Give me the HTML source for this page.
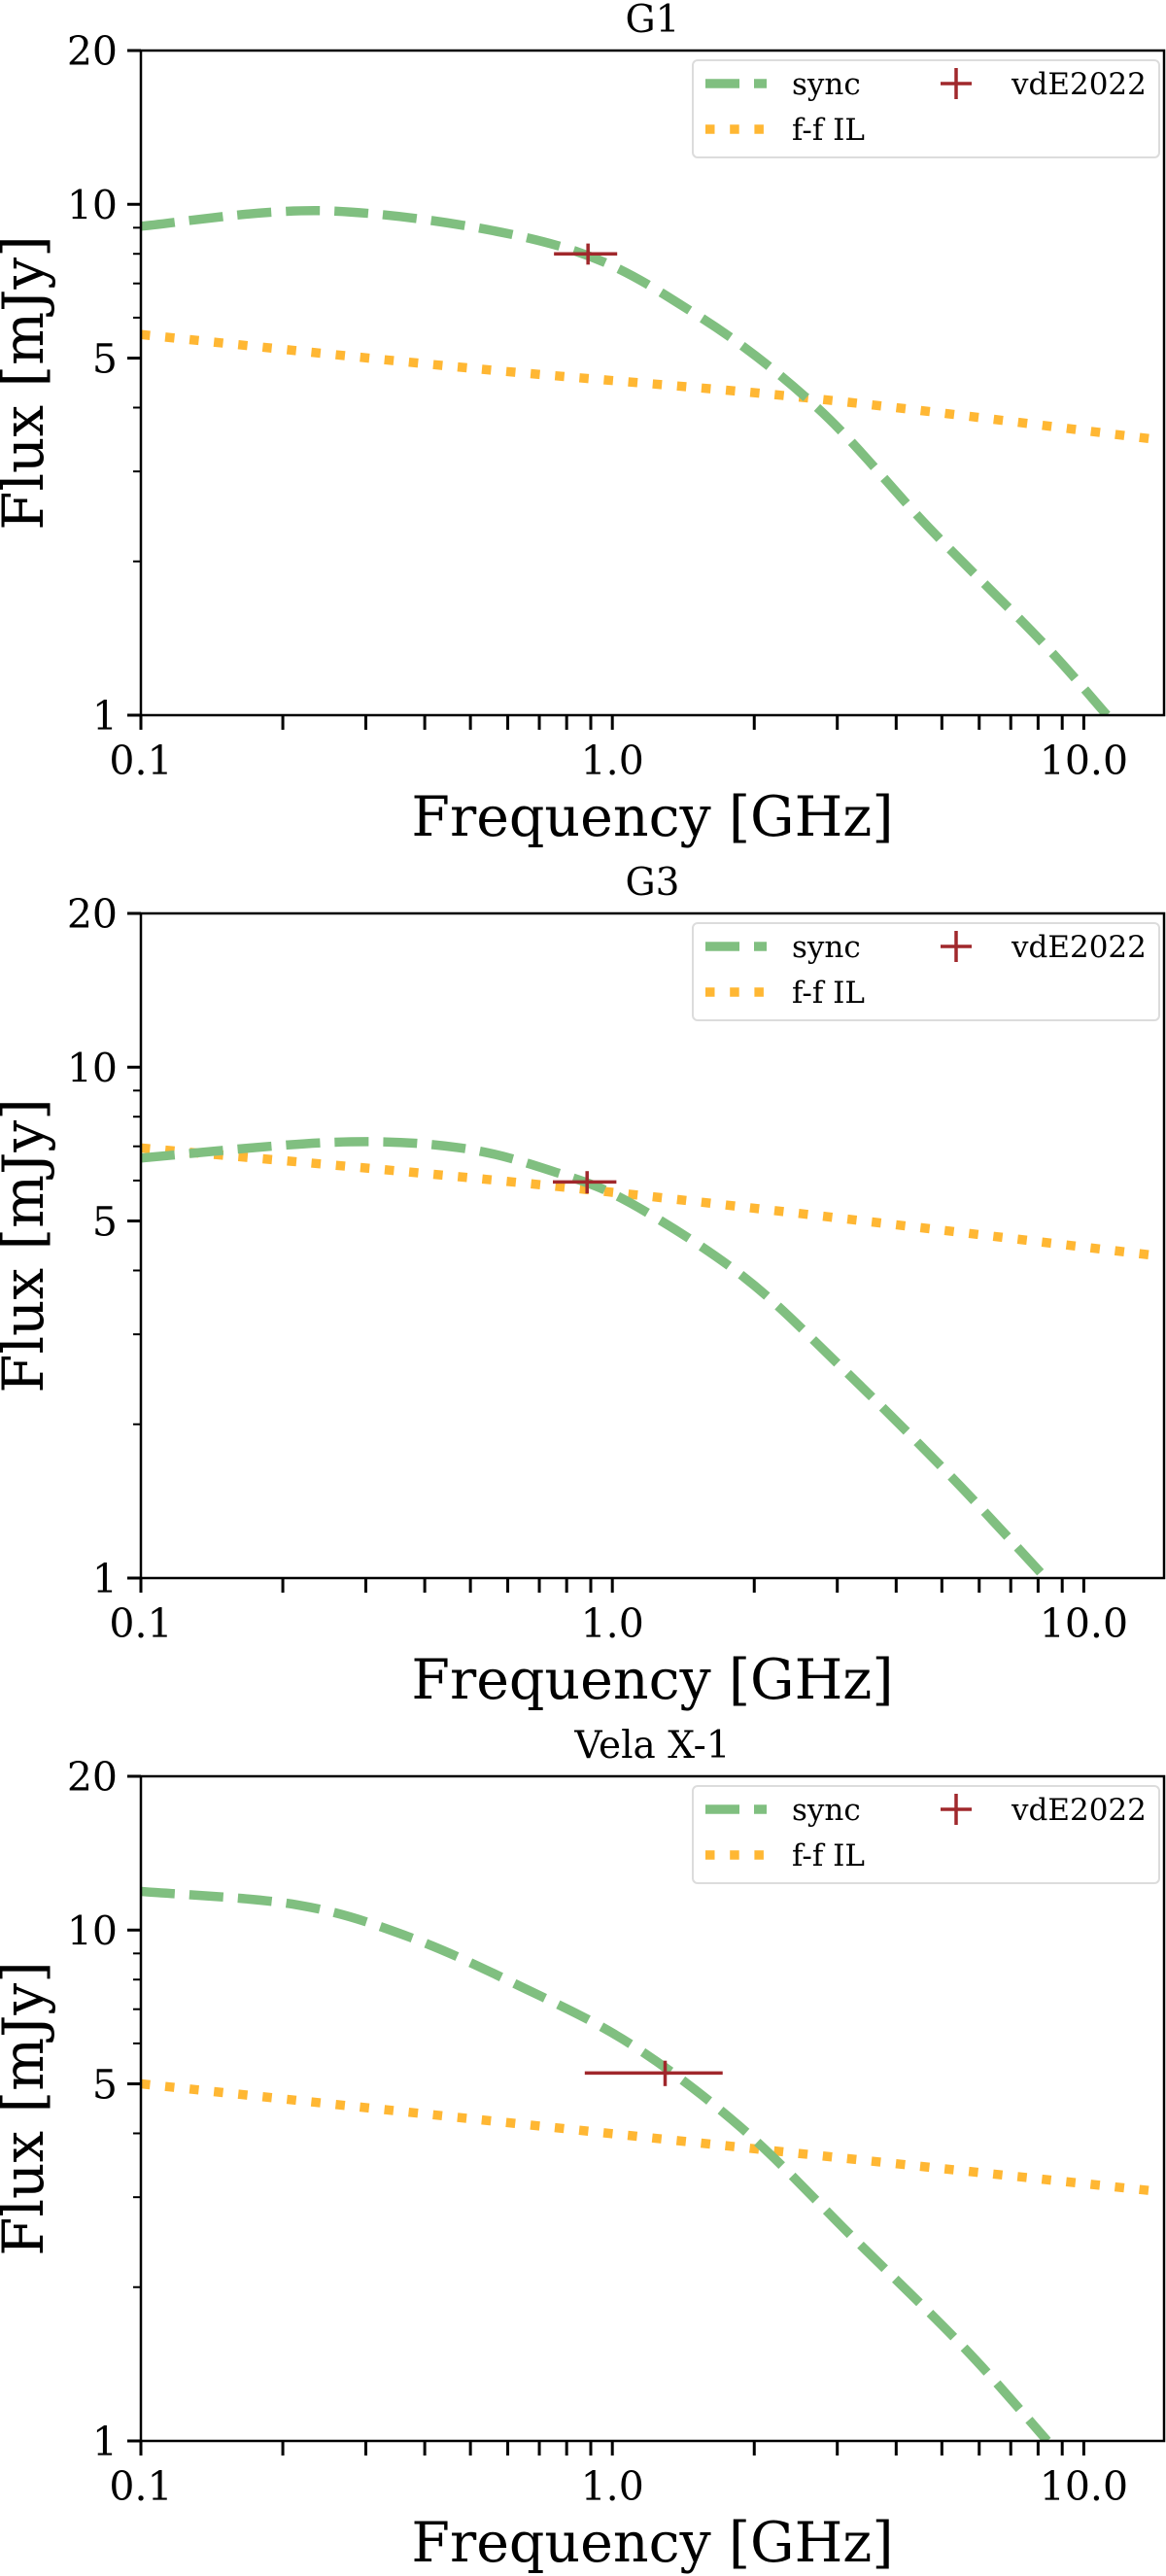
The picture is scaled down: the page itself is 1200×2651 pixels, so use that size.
<!DOCTYPE html>
<html><head><meta charset="utf-8">
<style>
html,body{margin:0;padding:0;background:#fff;}
svg{display:block;font-family:"DejaVu Serif","Liberation Serif",serif;}
</style></head>
<body>
<svg id="fig" width="1200" height="2651" viewBox="0 0 1200 2651" xmlns="http://www.w3.org/2000/svg"></svg>
<script>
// ---- data ----
const panelTitles = ["G1", "G3", "Vela X-1"];
const xTickLabels = ["0.1", "1.0", "10.0"];
const xTickValues = [0.1, 1, 10];
const yTickLabels = ["1", "5", "10", "20"];
const yTickValues = [1, 5, 10, 20];
const syncFreqG1 = [0.1, 0.257, 0.766, 1.5, 2.72, 4.69, 8.1, 11.2];
const syncFluxG1 = [9.06, 9.7, 8.3, 6.1, 4.0, 2.33, 1.40, 1.0];
const ffFreqG1 = [0.1, 0.51, 2.72, 14.8];
const ffFluxG1 = [5.56, 4.77, 4.16, 3.45];
const ptFreqG1 = [0.888]; const ptFluxG1 = [8.0]; const ptXerrG1 = [0.136]; const ptYerrG1 = [0.38];
const syncFreqG3 = [0.1, 0.257, 0.476, 0.766, 1.097, 1.89, 3.03, 5.23, 8.3];
const syncFluxG3 = [6.64, 7.13, 6.95, 6.21, 5.41, 3.90, 2.61, 1.58, 1.0];
const ffFreqG3 = [0.1, 0.884, 14.8];
const ffFluxG3 = [6.95, 5.76, 4.26];
const ptFreqG3 = [0.884]; const ptFluxG3 = [5.96]; const ptXerrG3 = [0.136]; const ptYerrG3 = [0.3];
const syncFreqVela = [0.1, 0.215, 0.37, 0.638, 1.097, 1.89, 3.27, 5.62, 8.37];
const syncFluxVela = [11.9, 11.2, 9.7, 7.76, 5.97, 4.08, 2.48, 1.51, 1.0];
const ffFreqVela = [0.1, 14.8];
const ffFluxVela = [5.0, 3.07];
const ptFreqVela = [1.294]; const ptFluxVela = [5.25]; const ptXerrVela = [0.42]; const ptYerrVela = [0.3];

const panels = [
 {sf:syncFreqG1, sv:syncFluxG1, ff:ffFreqG1, fv:ffFluxG1, pf:ptFreqG1, pv:ptFluxG1, px:ptXerrG1, py:ptYerrG1},
 {sf:syncFreqG3, sv:syncFluxG3, ff:ffFreqG3, fv:ffFluxG3, pf:ptFreqG3, pv:ptFluxG3, px:ptXerrG3, py:ptYerrG3},
 {sf:syncFreqVela, sv:syncFluxVela, ff:ffFreqVela, fv:ffFluxVela, pf:ptFreqVela, pv:ptFluxVela, px:ptXerrVela, py:ptYerrVela}
];

const NS = "http://www.w3.org/2000/svg";
const svg = document.getElementById('fig');
function mk(tag, attrs, parent){ const e=document.createElementNS(NS,tag); for(const k in attrs) e.setAttribute(k,attrs[k]); (parent||svg).appendChild(e); return e; }

const L=145, R=1198, XMIN=0.1, XMAX=14.8, YMIN=1, YMAX=20;
const GREEN="rgb(128,191,128)", ORANGE="rgb(255,183,51)", RED="rgb(160,40,44)";

panels.forEach((p, i) => {
  const T = 52 + i*888, B = 736 + i*888;
  const xs = f => L + (Math.log10(f)-Math.log10(XMIN))/(Math.log10(XMAX)-Math.log10(XMIN))*(R-L);
  const ys = v => B - (Math.log10(v)-Math.log10(YMIN))/(Math.log10(YMAX)-Math.log10(YMIN))*(B-T);
  const g = mk('g', {});
  
  
  const clipId = 'clip'+i;
  const cp = mk('clipPath', {id:clipId}, g); mk('rect',{x:L,y:T,width:R-L,height:B-T},cp);

  const title = mk('text', {x:(L+R)/2, y:T-19, 'text-anchor':'middle', 'font-size':39}, g);
  title.textContent = panelTitles[i];
  
  

  function curve(fr, vals){
    const pts = fr.map((f,k)=>[xs(f), ys(vals[k])]);
    let d = 'M'+pts[0][0]+','+pts[0][1];
    for(let k=0;k<pts.length-1;k++){
      const p0=pts[Math.max(0,k-1)], p1=pts[k], p2=pts[k+1], p3=pts[Math.min(pts.length-1,k+2)];
      const c1=[p1[0]+(p2[0]-p0[0])/6, p1[1]+(p2[1]-p0[1])/6];
      const c2=[p2[0]-(p3[0]-p1[0])/6, p2[1]-(p3[1]-p1[1])/6];
      d += ' C'+c1+' '+c2+' '+p2;
    }
    return d;
  }
  const ff = mk('path', {d:curve(p.ff,p.fv), fill:'none', stroke:ORANGE, 'stroke-width':9.5, 'stroke-dasharray':'9.5 15.7', 'clip-path':'url(#'+clipId+')'}, g);
  
  
  const sy = mk('path', {d:curve(p.sf,p.sv), fill:'none', stroke:GREEN, 'stroke-width':9.5, 'stroke-dasharray':'35 15', 'clip-path':'url(#'+clipId+')'}, g);
  
  

  p.pf.forEach((f,k)=>{
    const e = mk('g', {stroke:RED, 'stroke-width':3.5}, g);
    
    
    mk('line',{x1:xs(f-p.px[k]),x2:xs(f+p.px[k]),y1:ys(p.pv[k]),y2:ys(p.pv[k])},e);
    mk('line',{x1:xs(f),x2:xs(f),y1:ys(p.pv[k]+p.py[k]),y2:ys(p.pv[k]-p.py[k])},e);
  });

  const fr = mk('rect',{x:L,y:T,width:R-L,height:B-T,fill:'none',stroke:'#000','stroke-width':2.5},g);
  
  

  for(let dec=0.1; dec<20; dec*=10){
    for(let m=1;m<10;m++){
      const f=dec*m; if(f>XMAX+1e-9) continue;
      const x=xs(f);
      mk('line',{x1:x,x2:x,y1:B,y2:B+15,stroke:'#000','stroke-width':3},g);
    }
  }
  xTickValues.forEach((v,k)=>{
    const t = mk('text',{x:xs(v), y:B+61, 'text-anchor':'middle','font-size':41},g);
    t.textContent = xTickLabels[k];
    
    
  });
  for(let m=1;m<=20;m++){
    if(m>10 && m!==20) continue;
    const major = yTickValues.includes(m);
    const y=ys(m);
    mk('line',{x1:L-(major?14:8),x2:L,y1:y,y2:y,stroke:'#000','stroke-width':major?3:2},g);
  }
  yTickValues.forEach((v,k)=>{
    const t = mk('text',{x:L-24, y:ys(v)+15, 'text-anchor':'end','font-size':41},g);
    t.textContent = yTickLabels[k];
    
    
  });
  const xl = mk('text',{x:(L+R)/2, y:B+124, 'text-anchor':'middle','font-size':57},g);
  xl.textContent = 'Frequency [GHz]';
  
  
  const yc = (T+B)/2;
  const yl = mk('text',{x:44, y:yc, 'text-anchor':'middle','font-size':58, transform:'rotate(-90 44 '+yc+')'},g);
  yl.textContent = 'Flux [mJy]';
  
  

  const lg = mk('g',{},g);
  
  
  mk('rect',{x:713,y:T+10,width:480,height:100,rx:5,fill:'#fff','fill-opacity':0.8,stroke:'#dcdcdc','stroke-width':2},lg);
  mk('line',{x1:726,x2:789,y1:T+34,y2:T+34,stroke:GREEN,'stroke-width':9.5,'stroke-dasharray':'35 15'},lg);
  mk('line',{x1:726,x2:789,y1:T+81,y2:T+81,stroke:ORANGE,'stroke-width':9.5,'stroke-dasharray':'9.5 15.7'},lg);
  mk('line',{x1:968,x2:1000,y1:T+34,y2:T+34,stroke:RED,'stroke-width':3.5},lg);
  mk('line',{x1:984,x2:984,y1:T+18,y2:T+50,stroke:RED,'stroke-width':3.5},lg);
  const t1=mk('text',{x:815,y:T+45,'font-size':31},lg); t1.textContent='sync';
  
  
  const t2=mk('text',{x:815,y:T+92,'font-size':31},lg); t2.textContent='f-f IL';
  
  
  const t3=mk('text',{x:1041,y:T+45,'font-size':31},lg); t3.textContent='vdE2022';
  
  
});
</script>
</body></html>
